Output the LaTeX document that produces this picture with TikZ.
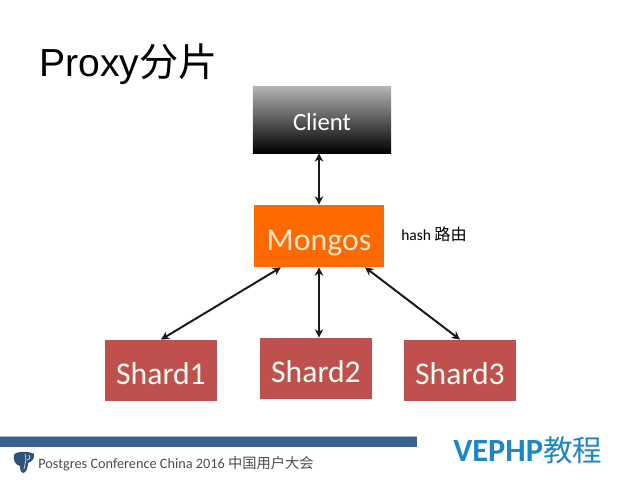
\documentclass[tikz,border=0pt]{standalone}
\usepackage{fontspec}
\setmainfont{Carlito}
\newfontfamily\titlefont{Liberation Sans}
\newfontfamily\cjkfont{Noto Sans CJK SC}
\definecolor{shardred}{HTML}{C0504D}
\definecolor{mongosorange}{HTML}{FF6A00}
\definecolor{barblue}{HTML}{35628F}
\definecolor{markblue}{HTML}{1C86C6}
\tikzset{
    box/.style={inner sep=0pt, minimum width=#1, minimum height=1.53cm, text depth=0pt, text height=20pt, text=white!95!yellow},
    shard/.style={box=2.8cm, fill=shardred, font=\fontsize{22.5}{26}\selectfont},
    link/.style={{Stealth[length=6pt,width=6pt]}-{Stealth[length=6pt,width=6pt]}, line width=1.4pt, black!90},
}
\usetikzlibrary{arrows.meta}
\begin{document}
\begin{tikzpicture}[x=0.025cm,y=0.025cm]
    \useasboundingbox (0,0) rectangle (640,480);

    \node[anchor=west, inner sep=0pt, font=\fontsize{27.8}{32}\titlefont] (title) at (39,416) {Proxy{\cjkfont 分片}};

    % client and router
    \node[box=3.45cm, minimum height=1.65cm, text height=15.6pt, top color=black!30, bottom color=black, font=\fontsize{17.6}{21}\selectfont, text=white] (client) at (322,360) {Client};
    \node[box=3.25cm, fill=mongosorange, minimum height=1.55cm, text=orange!20!white, font=\fontsize{22.6}{26}\selectfont] (mongos) at (319,244) {Mongos};
    \node[anchor=west, inner sep=0pt, font=\fontsize{11}{13}\selectfont] (hash) at (401,246) {hash {\fontsize{11.5}{13}\cjkfont 路由}};

    % shards
    \node[shard] (shard1) at (161,109.5) {Shard1};
    \node[shard] (shard2) at (316,111.5) {Shard2};
    \node[shard] (shard3) at (460,109.5) {Shard3};

    \draw[link] (client.south -| mongos.north) -- (mongos.north);
    \draw[link] (shard1.north) -- ([xshift=-0.95cm]mongos.south);
    \draw[link] (shard2.north -| mongos.south) -- (mongos.south);
    \draw[link] (shard3.north) -- ([xshift=1.15cm]mongos.south);

    % footer
    \fill[barblue] (0,33) rectangle (417,43);
    \fill[barblue!45!white] (0,43) rectangle (417,43.6);

    \fill[barblue!85!black] (14,25) .. controls (15,29) and (30,29) .. (34,26)
        .. controls (35,21) and (31,18) .. (28,17)
        .. controls (28,12) and (26,7) .. (23,7)
        .. controls (20,8) and (20,12) .. (20,14)
        .. controls (15,15) and (13,20) .. (14,25) -- cycle;
    \draw[white!80!barblue, line width=0.5pt] (25,26) .. controls (27,21) and (25,17) .. (24,11);
    \draw[white!80!barblue, line width=0.5pt] (29,25) .. controls (31,22) and (29,20) .. (27,20);

    \node[anchor=west, inner sep=0pt, text=black!70, font=\fontsize{10.15}{12}\selectfont] (footer) at (38,16.5) {Postgres Conference China 2016 {\cjkfont 中国用户大会}};
    \node[anchor=west, inner sep=0pt, text=markblue, font=\fontsize{23}{27}\bfseries] (mark) at (453,30) {VEPHP{\fontsize{21}{25}\mdseries\cjkfont 教程}};
\end{tikzpicture}
\end{document}
